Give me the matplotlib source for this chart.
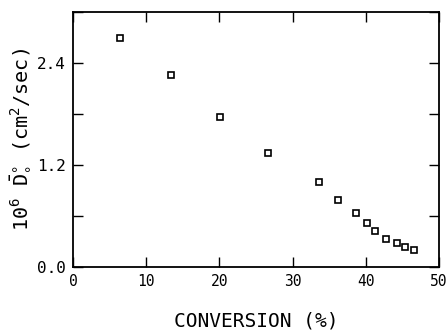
import matplotlib
matplotlib.use("Agg")
import matplotlib.pyplot as plt
from matplotlib.ticker import MultipleLocator, FormatStrFormatter

# data
conversion = [6.4, 13.4, 20.1, 26.6, 33.6, 36.2, 38.6, 40.1, 41.2, 42.7, 44.2, 45.4, 46.6]
diffusivity = [2.69, 2.26, 1.76, 1.34, 1.00, 0.79, 0.64, 0.52, 0.42, 0.33, 0.28, 0.24, 0.20]

plt.rcParams['font.family'] = 'DejaVu Sans Mono'
plt.rcParams['mathtext.fontset'] = 'custom'
plt.rcParams['mathtext.rm'] = 'DejaVu Sans Mono'
plt.rcParams['mathtext.it'] = 'DejaVu Sans Mono'

fig = plt.figure(figsize=(4.48, 3.30), dpi=100)
ax = fig.add_axes([0.163, 0.191, 0.817, 0.773])

ax.plot(conversion, diffusivity, 's', ms=4.5, mfc='white', mec='black', mew=1.2)

ax.set_xlim(0, 50)
ax.set_ylim(0, 3.0)
ax.xaxis.set_major_locator(MultipleLocator(10))
ax.yaxis.set_major_locator(MultipleLocator(1.2))
ax.yaxis.set_minor_locator(MultipleLocator(0.6))
ax.yaxis.set_major_formatter(FormatStrFormatter('%.1f'))

ax.tick_params(which='both', direction='in', top=True, right=True,
               length=7, width=1.0, pad=5)
ax.tick_params(axis='x', labelsize=10.5)
ax.tick_params(axis='y', labelsize=11.5)
for s in ax.spines.values():
    s.set_linewidth(1.3)

ax.set_xlabel('CONVERSION (%)', fontsize=14, labelpad=16)
ax.set_ylabel(r'10$^6$ $\bar{\mathrm{D}}^{\circ}_{\circ}$ (cm$^2$/sec)', fontsize=14.5, labelpad=4)

fig.savefig('out.png', dpi=100)
